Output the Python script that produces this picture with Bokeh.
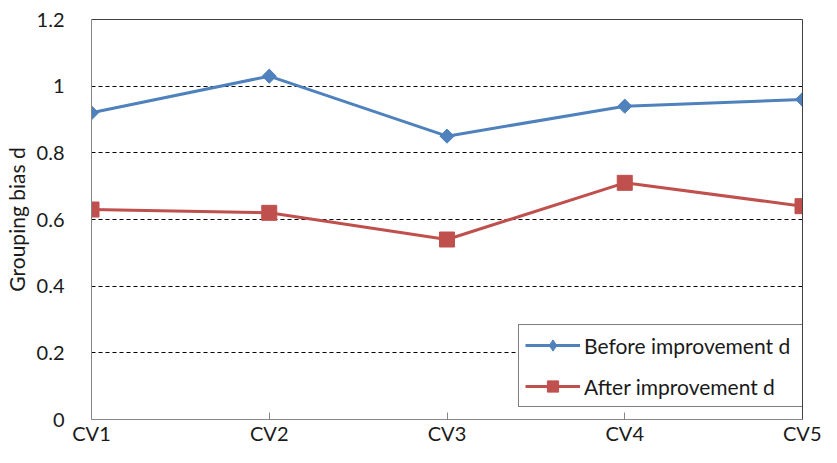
import math
from bokeh.plotting import figure
from bokeh.models import FixedTicker, Legend, LegendItem, LinearAxis
from bokeh.embed import file_html
from bokeh.resources import INLINE

categories = ["CV1", "CV2", "CV3", "CV4", "CV5"]
before_d = [0.92, 1.03, 0.85, 0.94, 0.96]
after_d = [0.63, 0.62, 0.54, 0.71, 0.64]
series_names = ["Before improvement d", "After improvement d"]
y_ticks = [0, 0.2, 0.4, 0.6, 0.8, 1.0, 1.2]
y_tick_labels = ["0", "0.2", "0.4", "0.6", "0.8", "1", "1.2"]
y_title = "Grouping bias d"

FONT = "Lato"
BLUE = "#4F81BD"
RED = "#C0504D"
TEXT = "#1a1a1a"

x = list(range(len(categories)))

p = figure(width=821, height=447, output_backend="svg", toolbar_location=None,
           x_range=(x[0], x[-1]), y_range=(y_ticks[0], y_ticks[-1]),
           min_border_left=90, min_border_right=19, min_border_top=19,
           min_border_bottom=26)
p.outline_line_color = None
p.background_fill_color = "white"
p.border_fill_color = "white"

# grid
p.xgrid.visible = False
p.ygrid.ticker = FixedTicker(ticks=y_ticks[1:-1])
p.ygrid.grid_line_color = "black"
p.ygrid.grid_line_dash = "4 3"
p.ygrid.grid_line_width = 1

# x axis
p.xaxis.ticker = FixedTicker(ticks=x)
p.xaxis.major_label_overrides = {i: c for i, c in zip(x, categories)}
p.xaxis.axis_line_color = "#868686"
p.xaxis.major_tick_line_color = "#868686"
p.xaxis.major_tick_in = 7
p.xaxis.major_tick_out = 0
p.xaxis.minor_tick_line_color = None
p.xaxis.major_label_standoff = 1
p.xaxis.major_label_text_font = FONT
p.xaxis.major_label_text_font_size = "20px"
p.xaxis.major_label_text_color = TEXT

# y axis
p.yaxis.ticker = FixedTicker(ticks=y_ticks)
p.yaxis.major_label_overrides = {t: l for t, l in zip(y_ticks, y_tick_labels)}
p.yaxis.axis_line_color = "#868686"
p.yaxis.major_tick_line_color = None
p.yaxis.minor_tick_line_color = None
p.yaxis.major_label_standoff = 21
p.yaxis.major_label_text_font = FONT
p.yaxis.major_label_text_font_size = "20px"
p.yaxis.major_label_text_color = TEXT
p.yaxis.axis_label = y_title
p.yaxis.axis_label_text_font = FONT
p.yaxis.axis_label_text_font_size = "21px"
p.yaxis.axis_label_text_font_style = "normal"
p.yaxis.axis_label_text_color = TEXT
p.yaxis.axis_label_standoff = 5

# top and right frame lines
for side in ("right", "above"):
    ax = LinearAxis(ticker=FixedTicker(ticks=[]), axis_line_color="#404040",
                    major_tick_line_color=None, minor_tick_line_color=None,
                    major_label_standoff=0, major_label_text_font_size="0px")
    p.add_layout(ax, side)

# series
l1 = p.line(x, before_d, line_color=BLUE, line_width=3)
s1 = p.scatter(x, before_d, marker="square", angle=math.pi / 4, size=10,
               fill_color=BLUE, line_color=BLUE)
l2 = p.line(x, after_d, line_color=RED, line_width=3)
s2 = p.scatter(x, after_d, marker="square", size=15,
               fill_color=RED, line_color=RED)

# legend-only marker renderers (diamond shape for the legend swatch)
k1 = p.scatter(x, before_d, marker="diamond", size=14,
               fill_color=BLUE, line_color=BLUE, visible=False)
k2 = p.scatter(x, after_d, marker="square", size=15,
               fill_color=RED, line_color=RED, visible=False)

legend = Legend(items=[LegendItem(label=series_names[0], renderers=[l1, k1]),
                       LegendItem(label=series_names[1], renderers=[l2, k2])],
                location=(427, 12), orientation="vertical",
                border_line_color="black", border_line_width=1,
                background_fill_color="white", background_fill_alpha=1,
                padding=6, spacing=13, margin=0,
                glyph_width=55, glyph_height=28, label_height=28,
                label_width=215, label_standoff=4,
                label_text_font=FONT, label_text_font_size="21px",
                label_text_color=TEXT)
p.add_layout(legend, "center")

open("out.html", "w").write(file_html(p, INLINE))
